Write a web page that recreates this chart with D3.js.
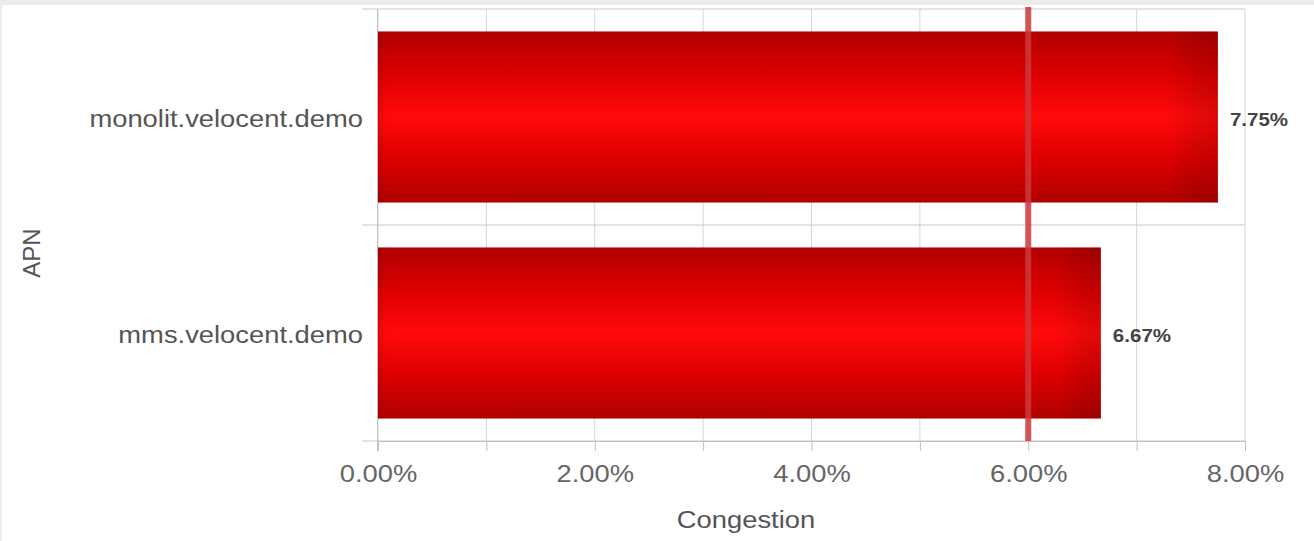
<!DOCTYPE html>
<html>
<head>
<meta charset="utf-8">
<script src="https://cdn.jsdelivr.net/npm/d3@7"></script>
<style>
  html, body { margin: 0; padding: 0; background: #fff; }
  svg { display: block; font-family: "Liberation Sans", Arial, sans-serif; }
</style>
</head>
<body>
<svg id="chart" width="1314" height="541"></svg>
<script>
// ---- data ----
const categories = ["monolit.velocent.demo", "mms.velocent.demo"];
const congestion = [0.0775, 0.0667];
const valueLabels = ["7.75%", "6.67%"];
const xTickValues = [0, 0.01, 0.02, 0.03, 0.04, 0.05, 0.06, 0.07, 0.08];
const xTickLabels = ["0.00%", "", "2.00%", "", "4.00%", "", "6.00%", "", "8.00%"];
const thresholds = [0.06];
const xTitle = "Congestion";
const yTitle = "APN";

// ---- layout ----
const W = 1314, H = 541;
const plot = { left: 378, right: 1245, top: 9, bottom: 441 };
const SX = 1.14; // horizontal stretch of text seen in reference

const svg = d3.select("#chart");

// page frame (light gray edge)
svg.append("rect").attr("x", 0).attr("y", 0).attr("width", W).attr("height", H).attr("fill", "#fff");
svg.append("rect").attr("x", 0).attr("y", 0).attr("width", W).attr("height", 5).attr("fill", "#ececec");
svg.append("rect").attr("x", 0).attr("y", 0).attr("width", 2).attr("height", H).attr("fill", "#ececec");

const x = d3.scaleLinear().domain([0, 0.08]).range([plot.left, plot.right]);
const ySlot = d3.scaleBand().domain(categories).range([plot.top, plot.bottom]);
const y = d3.scaleBand().domain(categories).range([plot.top, plot.bottom])
  .paddingInner(0.208).paddingOuter(0.104);

// gradient for bars
const defs = svg.append("defs");
const grad = defs.append("linearGradient").attr("id", "barGrad")
  .attr("x1", 0).attr("y1", 0).attr("x2", 0).attr("y2", 1);
[[0, "#b00000"], [0.25, "#dc0000"], [0.5, "#ff0a0a"], [0.75, "#dc0000"], [1, "#b00000"]]
  .forEach(([o, c]) => grad.append("stop").attr("offset", o).attr("stop-color", c));
const gradH = defs.append("linearGradient").attr("id", "barEdge")
  .attr("x1", 0).attr("y1", 0).attr("x2", 1).attr("y2", 0);
[[0, "rgba(0,0,0,0.10)"], [0.01, "rgba(0,0,0,0)"], [0.94, "rgba(0,0,0,0)"], [0.97, "rgba(0,0,0,0.08)"], [1, "rgba(0,0,0,0.12)"]]
  .forEach(([o, c]) => gradH.append("stop").attr("offset", o).attr("stop-color", c));

// vertical gridlines
svg.append("g").selectAll("line").data(xTickValues).join("line")
  .attr("x1", d => x(d)).attr("x2", d => x(d))
  .attr("y1", plot.top).attr("y2", plot.bottom)
  .attr("stroke", "#d6d6d6").attr("stroke-width", 1);

// horizontal band separators (with left ticks)
const sepYs = categories.map(c => ySlot(c)).concat([plot.bottom]);
svg.append("g").selectAll("line").data(sepYs).join("line")
  .attr("x1", plot.left - 16).attr("x2", plot.right)
  .attr("y1", d => d).attr("y2", d => d)
  .attr("stroke", "#c8c8c8").attr("stroke-width", 1);

// y axis line
svg.append("line").attr("x1", plot.left - 0.5).attr("x2", plot.left - 0.5)
  .attr("y1", plot.top).attr("y2", plot.bottom + 10)
  .attr("stroke", "#c0c0c0");

// bars
const bars = svg.append("g");
bars.selectAll("rect.bar").data(categories).join("rect").attr("class", "bar")
  .attr("x", x(0)).attr("y", d => y(d))
  .attr("width", (d, i) => x(congestion[i]) - x(0))
  .attr("height", y.bandwidth())
  .attr("fill", "url(#barGrad)");
bars.selectAll("rect.edge").data(categories).join("rect").attr("class", "edge")
  .attr("x", x(0)).attr("y", d => y(d))
  .attr("width", (d, i) => x(congestion[i]) - x(0))
  .attr("height", y.bandwidth())
  .attr("fill", "url(#barEdge)");

// x axis
const xAxis = d3.axisBottom(x).tickValues(xTickValues).tickSize(10).tickSizeOuter(0)
  .tickFormat((d, i) => xTickLabels[i]);
const gx = svg.append("g").attr("transform", `translate(0,${plot.bottom})`).call(xAxis);
gx.select(".domain").attr("stroke", "#c0c0c0");
gx.selectAll(".tick line").attr("stroke", "#c0c0c0");
gx.selectAll(".tick text")
  .attr("y", 0).attr("dy", null)
  .attr("transform", `translate(0,41) scale(${SX},1)`)
  .attr("fill", "#666").attr("font-size", 24)
  .attr("font-family", "Liberation Sans, Arial, sans-serif");

// threshold line
svg.append("g").selectAll("line").data(thresholds).join("line")
  .attr("x1", d => x(d)).attr("x2", d => x(d))
  .attr("y1", plot.top - 2).attr("y2", plot.bottom)
  .attr("stroke", "rgba(205,55,60,0.85)").attr("stroke-width", 6);

// category labels
svg.append("g").selectAll("text").data(categories).join("text")
  .attr("transform", d => `translate(${plot.left - 15},${y(d) + y.bandwidth() / 2 + 10}) scale(${SX},1)`)
  .attr("text-anchor", "end")
  .attr("fill", "#555").attr("font-size", 24)
  .text(d => d);

// value labels
svg.append("g").selectAll("text").data(categories).join("text")
  .attr("transform", (d, i) => `translate(${x(congestion[i]) + 12},${y(d) + y.bandwidth() / 2 + 8.5}) scale(${SX},1)`)
  .attr("fill", "#444").attr("font-size", 18).attr("font-weight", "bold")
  .text((d, i) => valueLabels[i]);

// axis titles
svg.append("text")
  .attr("transform", `translate(746,528) scale(${SX},1)`)
  .attr("text-anchor", "middle").attr("fill", "#555").attr("font-size", 24)
  .text(xTitle);
svg.append("text")
  .attr("transform", `translate(40,253) rotate(-90)`)
  .attr("text-anchor", "middle").attr("fill", "#555").attr("font-size", 24)
  .text(yTitle);
</script>
</body>
</html>
